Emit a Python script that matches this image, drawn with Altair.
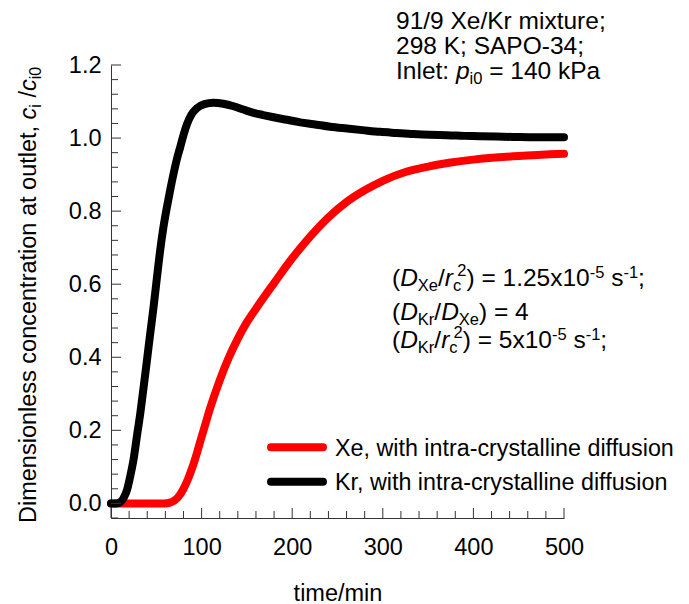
import altair as alt
import pandas as pd

# ---------------- data ----------------
xe_time = [0, 58, 62, 65, 70, 75, 80, 85, 90, 95, 100, 105, 110, 120, 130, 140, 150, 160, 180,
           200, 220, 240, 260, 280, 300, 325, 350, 375, 400, 450, 500]
xe_conc = [0, 0, 0.0005, 0.002, 0.008, 0.020, 0.040, 0.067, 0.100, 0.139, 0.182, 0.224, 0.265,
           0.337, 0.399, 0.451, 0.496, 0.533, 0.603, 0.671, 0.731, 0.783, 0.825, 0.857, 0.883,
           0.907, 0.922, 0.933, 0.941, 0.951, 0.957]

kr_time = [0, 6, 10, 14, 17.7, 21, 25, 28.5, 32.3, 36, 39.7, 43.3, 47, 50.7, 54.4, 58, 61.8,
           65.5, 69.1, 72.8, 76.5, 80, 83.9, 89, 94.9, 103, 113.2, 124, 135.3, 146, 157.4, 168,
           179.5, 194, 209, 223.6, 242, 260.5, 280, 297, 315, 334, 352, 371, 390, 407.6, 444,
           470, 500]
kr_conc = [0, 0, 0.003, 0.015, 0.037, 0.072, 0.122, 0.182, 0.246, 0.318, 0.392, 0.465, 0.538,
           0.618, 0.695, 0.758, 0.812, 0.860, 0.903, 0.943, 0.976, 1.008, 1.038, 1.065, 1.082,
           1.093, 1.097, 1.094, 1.087, 1.078, 1.069, 1.063, 1.057, 1.050, 1.043, 1.038, 1.031,
           1.026, 1.021, 1.017, 1.014, 1.011, 1.009, 1.008, 1.006, 1.005, 1.003, 1.002, 1.002]

series_names = ["Xe, with intra-crystalline diffusion", "Kr, with intra-crystalline diffusion"]
series_colors = ["#ff0000", "#000000"]

x_major = [0, 100, 200, 300, 400, 500]
x_minor = [20, 40, 60, 80, 120, 140, 160, 180, 220, 240, 260, 280, 320, 340, 360, 380,
           420, 440, 460, 480]
y_major = [0.0, 0.2, 0.4, 0.6, 0.8, 1.0, 1.2]
y_minor = [-0.04, 0.04, 0.08, 0.12, 0.16, 0.24, 0.28, 0.32, 0.36, 0.44, 0.48, 0.52, 0.56,
           0.64, 0.68, 0.72, 0.76, 0.84, 0.88, 0.92, 0.96, 1.04, 1.08, 1.12, 1.16]

# rich-text annotations: (text, style[, backstep])
note_top = [
    [("91/9 Xe/Kr mixture;", "n")],
    [("298 K; SAPO-34;", "n")],
    [("Inlet: ", "n"), ("p", "i"), ("i0", "sub"), (" = 140 kPa", "n")],
]
note_mid = [
    [("(", "n"), ("D", "i"), ("Xe", "sub"), ("/", "n"), ("r", "i"), ("c", "sub"), ("2", "sup2", 4),
     (") = 1.25x10", "n"), ("-5", "sup"), (" s", "n"), ("-1", "sup"), (";", "n")],
    [("(", "n"), ("D", "i"), ("Kr", "sub"), ("/", "n"), ("D", "i"), ("Xe", "sub"), (") = 4", "n")],
    [("(", "n"), ("D", "i"), ("Kr", "sub"), ("/", "n"), ("r", "i"), ("c", "sub"), ("2", "sup2", 4),
     (") = 5x10", "n"), ("-5", "sup"), (" s", "n"), ("-1", "sup"), (";", "n")],
]
y_title = [("Dimensionless concentration at outlet, ", "n"), ("c", "i"), ("i", "sub"),
           (" /", "n"), ("c", "i"), ("i0", "sub")]
x_title = "time/min"

# ---------------- layout / style ----------------
W = H = 453
OX, OY = 111, 65          # page position of the plot origin (top-left)
FONT = "Liberation Sans"
FA = 23.5                 # axis font size
FT = 24.5                 # annotation font size
FL = 23.3                 # legend font size
AXC = "#333333"

AW = {' ': 278, '(': 333, ')': 333, ',': 278, '-': 333, '.': 278, '/': 278, ':': 278,
      ';': 278, '=': 584,
      'A': 667, 'B': 667, 'C': 722, 'D': 722, 'E': 667, 'F': 611, 'G': 778, 'H': 722,
      'I': 278, 'J': 500, 'K': 667, 'L': 556, 'M': 833, 'N': 722, 'O': 778, 'P': 667,
      'Q': 778, 'R': 722, 'S': 667, 'T': 611, 'U': 722, 'V': 667, 'W': 944, 'X': 667,
      'Y': 667, 'Z': 611,
      'a': 556, 'b': 556, 'c': 500, 'd': 556, 'e': 556, 'f': 278, 'g': 556, 'h': 556,
      'i': 222, 'j': 222, 'k': 500, 'l': 222, 'm': 833, 'n': 556, 'o': 556, 'p': 556,
      'q': 556, 'r': 333, 's': 500, 't': 278, 'u': 556, 'v': 500, 'w': 722, 'x': 500,
      'y': 500, 'z': 500}


def tw(s, size):
    return sum(AW.get(ch, 556) for ch in s) / 1000.0 * size


one = pd.DataFrame({"k": [0]})


def text_layer(text, x, y, size, italic=False, angle=0):
    kw = dict(font=FONT, fontSize=size, align="left", baseline="alphabetic", color="black")
    if italic:
        kw["fontStyle"] = "italic"
    if angle:
        kw["angle"] = angle
    return alt.Chart(one).mark_text(**kw).encode(
        x=alt.value(x), y=alt.value(y), text=alt.value(text))


def rich(parts, x0, y0, main, small, shifts, rotate=False):
    layers = []
    cur = 0.0
    for p in parts:
        text, style = p[0], p[1]
        if len(p) > 2:
            cur -= p[2]
        size = main if style in ("n", "i") else small
        lead = len(text) - len(text.lstrip(" "))
        cur += lead * tw(" ", size)
        body = text.strip(" ")
        shift = shifts[style]
        if rotate:
            layers.append(text_layer(body, x0 + shift, y0 - cur, size, style == "i", 270))
        else:
            layers.append(text_layer(body, x0 + cur, y0 + shift, size, style == "i"))
        cur += tw(text.lstrip(" "), size)
    return layers


SHIFT_TXT = {"n": 0, "i": 0, "sub": 5, "sup": -8, "sup2": -10}
SHIFT_YT = {"n": 0, "i": 0, "sub": 5, "sup": -8, "sup2": -10}

xscale = alt.Scale(domain=[0, 500], nice=False, zero=False)
yscale = alt.Scale(domain=[-0.04, 1.2], nice=False, zero=False)

x_axis = alt.Axis(values=x_major, format="d", title=x_title, ticks=False, tickSize=0,
                  labelPadding=17, labelFont=FONT, labelFontSize=FA, labelColor="black",
                  labelFlush=False, labelOverlap=False,
                  titleFont=FONT, titleFontSize=FA, titleFontWeight="normal", titleColor="black",
                  titleBaseline="alphabetic", titleY=82,
                  domainColor=AXC, domainWidth=1, grid=False)
y_axis = alt.Axis(values=y_major, format=".1f", title=None, ticks=False, tickSize=0,
                  labelPadding=10, labelFont=FONT, labelFontSize=FA, labelColor="black",
                  labelFlush=False, labelOverlap=False,
                  domainColor=AXC, domainWidth=1, grid=False)

X_T = alt.X("time:Q", scale=xscale, axis=x_axis)
Y_C = alt.Y("conc:Q", scale=yscale, axis=y_axis)

xe_df = pd.DataFrame({"time": xe_time, "conc": xe_conc})
kr_df = pd.DataFrame({"time": kr_time, "conc": kr_conc})

line_kw = dict(strokeWidth=8, strokeCap="round", strokeJoin="round", interpolate="monotone")
xe_line = alt.Chart(xe_df).mark_line(color=series_colors[0], **line_kw).encode(x=X_T, y=Y_C)
kr_line = alt.Chart(kr_df).mark_line(color=series_colors[1], **line_kw).encode(x=X_T, y=Y_C)


def xticks(vals, length):
    return alt.Chart(pd.DataFrame({"time": vals})).mark_rule(color=AXC, strokeWidth=1).encode(
        x=X_T, y=alt.value(H), y2=alt.value(H - length))


def yticks(vals, length):
    return alt.Chart(pd.DataFrame({"conc": vals})).mark_rule(color=AXC, strokeWidth=1).encode(
        y=Y_C, x=alt.value(0), x2=alt.value(length))


layers = [xe_line, kr_line,
          xticks(x_major, 10), xticks(x_minor, 7), yticks(y_major, 10), yticks(y_minor, 7)]

# legend (drawn by hand)
leg_y = [447.3 - OY, 481.7 - OY]
leg_txt_y = [456 - OY, 490 - OY]
for name, col, ly, ty in zip(series_names, series_colors, leg_y, leg_txt_y):
    layers.append(alt.Chart(one).mark_rule(color=col, strokeWidth=8, strokeCap="round").encode(
        x=alt.value(271 - OX), x2=alt.value(323 - OX), y=alt.value(ly)))
    layers.append(text_layer(name, 335 - OX, ty, FL))

# annotations
for parts, by in zip(note_top, [28.5, 53.5, 78.5]):
    layers += rich(parts, 396 - OX, by - OY, FT, 16.5, SHIFT_TXT)
for parts, by in zip(note_mid, [286, 319.5, 348]):
    layers += rich(parts, 392 - OX, by - OY, FT, 16.5, SHIFT_TXT)
layers += rich(y_title, 35.5 - OX, 523 - OY, FA, 16, SHIFT_YT, rotate=True)

chart = alt.layer(*layers).properties(
    width=W, height=H,
    autosize=alt.AutoSizeParams(type="none"),
    padding={"left": OX - 8, "top": OY - 8, "right": 117, "bottom": 86},
    background="white",
).configure_view(strokeWidth=0)

chart.save("out.html", embed_options={"renderer": "svg", "actions": False})
